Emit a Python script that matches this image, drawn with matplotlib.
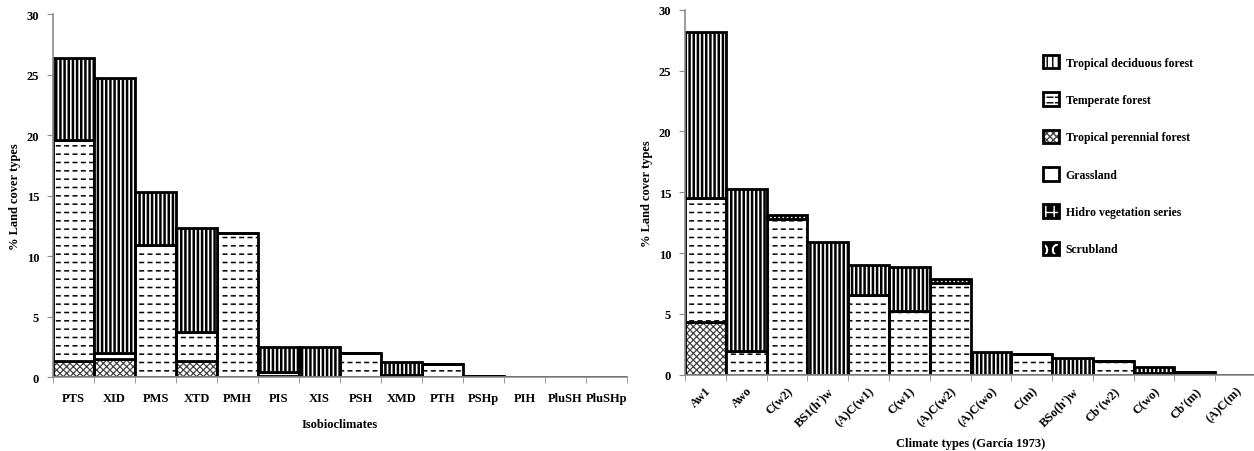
import numpy as np
import matplotlib
matplotlib.use('Agg')
import matplotlib.pyplot as plt
from matplotlib.patches import Patch
from matplotlib.legend_handler import HandlerTuple

plt.rcParams['font.family'] = ['Liberation Serif', 'DejaVu Serif']
plt.rcParams['font.weight'] = 'bold'
plt.rcParams['font.size'] = 9

# left panel: isobioclimates
iso_labels = ['PTS', 'XID', 'PMS', 'XTD', 'PMH', 'PIS', 'XIS', 'PSH', 'XMD', 'PTH',
              'PSHp', 'PIH', 'PluSH', 'PluSHp']
iso_perennial = [1.35, 1.5, 0, 1.3, 0, 0.05, 0, 0, 0, 0, 0, 0, 0, 0]
iso_temperate = [18.25, 0.5, 10.9, 2.45, 11.9, 0.4, 0, 1.95, 0.15, 1.05, 0.12, 0, 0, 0]
iso_deciduous = [6.8, 22.75, 4.4, 8.55, 0, 2.05, 2.5, 0, 1.1, 0, 0, 0, 0, 0]

# right panel: climate types
cli_labels = ['Aw1', 'Awo', 'C(w2)', "BS1(h')w", '(A)C(w1)', 'C(w1)', '(A)C(w2)',
              '(A)C(wo)', 'C(m)', "BSo(h')w", "Cb'(w2)", 'C(wo)', "Cb'(m)", '(A)C(m)']
cli_perennial = [4.3, 0, 0, 0, 0, 0, 0, 0, 0, 0, 0, 0, 0, 0]
cli_temperate = [10.2, 1.95, 12.8, 0, 6.55, 5.25, 7.5, 0, 1.7, 0, 1.15, 0.1, 0.2, 0]
cli_deciduous = [13.7, 13.35, 0.35, 10.88, 2.5, 3.6, 0.4, 1.85, 0, 1.37, 0, 0.5, 0, 0]

legend_names = ['Tropical deciduous forest', 'Temperate forest', 'Tropical perennial forest',
                'Grassland', 'Hidro vegetation series', 'Scrubland']

EDGE = 2.0
GREY = '#8c8c8c'


def bar_layer(ax, x, vals, bottom, kind):
    if kind == 'deciduous':
        with plt.rc_context({'hatch.linewidth': 1.8}):
            ax.bar(x, vals, 1.0, bottom=bottom, facecolor='white', edgecolor='black',
                   hatch='||||', linewidth=0)
    elif kind == 'temperate':
        with plt.rc_context({'hatch.linewidth': 1.1}):
            ax.bar(x, vals, 1.0, bottom=bottom, facecolor='white', edgecolor='black',
                   hatch='--', linewidth=0)
        # white vertical hatch breaks the lines into dashes
        with plt.rc_context({'hatch.linewidth': 2.4}):
            ax.bar(x, vals, 1.0, bottom=bottom, fill=False, edgecolor='white',
                   hatch='||', linewidth=0)
    elif kind == 'perennial':
        with plt.rc_context({'hatch.linewidth': 0.9}):
            ax.bar(x, vals, 1.0, bottom=bottom, facecolor='white', edgecolor='#444444',
                   hatch='xxxxx', linewidth=0)
    ax.bar(x, vals, 1.0, bottom=bottom, fill=False, edgecolor='black', linewidth=EDGE)


def draw_panel(ax, labels, perennial, temperate, deciduous):
    x = np.arange(len(labels))
    bottom = np.zeros(len(labels))
    for vals, kind in [(perennial, 'perennial'), (temperate, 'temperate'),
                       (deciduous, 'deciduous')]:
        vals = np.array(vals)
        bar_layer(ax, x, vals, bottom, kind)
        bottom = bottom + vals
    ax.set_xlim(-0.5, len(labels) - 0.5)
    ax.set_ylim(0, 30)
    ax.set_yticks([0, 5, 10, 15, 20, 25, 30])
    ax.set_xticks(x)
    ax.set_xticks(np.arange(len(labels) + 1) - 0.5, minor=True)
    ax.tick_params(axis='x', which='major', length=0)
    ax.tick_params(axis='x', which='minor', length=4, color=GREY, direction='out')
    ax.tick_params(axis='y', length=4, color=GREY, direction='out', pad=6)
    for s in ['top', 'right']:
        ax.spines[s].set_visible(False)
    for s in ['left', 'bottom']:
        ax.spines[s].set_color(GREY)
        ax.spines[s].set_linewidth(1.2)
    ax.set_ylabel('% Land cover types', fontweight='bold')
    ax.yaxis.set_label_coords(-0.056, 0.5)


fig = plt.figure(figsize=(12.54, 4.52), dpi=100)
ax1 = fig.add_axes([0.0423, 0.1637, 0.4577, 0.803])
ax2 = fig.add_axes([0.5463, 0.1688, 0.4553, 0.8075])

draw_panel(ax1, iso_labels, iso_perennial, iso_temperate, iso_deciduous)
ax1.set_xticklabels(iso_labels)
ax1.tick_params(axis='x', which='major', pad=11)
ax1.set_xlabel('Isobioclimates', fontweight='bold', labelpad=10)

draw_panel(ax2, cli_labels, cli_perennial, cli_temperate, cli_deciduous)
ax2.set_xticklabels(cli_labels, rotation=45, ha='right', rotation_mode='anchor')
ax2.tick_params(axis='x', which='major', pad=7)
ax2.set_xlabel('Climate types (García 1973)', fontweight='bold')
ax2.xaxis.set_label_coords(0.5, -0.17)

# legend handles (overlaid layers)
border = dict(fill=False, edgecolor='black', linewidth=EDGE)
with plt.rc_context({'hatch.linewidth': 1.4}):
    handles = [
        (Patch(facecolor='white', edgecolor='black', hatch='|||', linewidth=0), Patch(**border)),
        (Patch(facecolor='white', edgecolor='black', hatch='---', linewidth=0),
         Patch(fill=False, edgecolor='white', hatch='||', linewidth=0), Patch(**border)),
        (Patch(facecolor='white', edgecolor='#444444', hatch='xxxxx', linewidth=0), Patch(**border)),
        (Patch(facecolor='white', edgecolor='black', hatch='.', linewidth=0), Patch(**border)),
        (Patch(facecolor='black', edgecolor='white', hatch='++', linewidth=0), Patch(**border)),
        (Patch(facecolor='black', edgecolor='white', hatch='O', linewidth=0), Patch(**border)),
    ]
ax2.legend(handles, legend_names, loc='upper left', bbox_to_anchor=(0.823, 0.90),
           bbox_transform=fig.transFigure, frameon=False, handlelength=1.4,
           handleheight=1.4, handletextpad=0.55, labelspacing=2.0,
           handler_map={tuple: HandlerTuple(ndivide=1, pad=0)},
           prop={'weight': 'bold', 'size': 8.5})

fig.savefig('out.png', dpi=100)
